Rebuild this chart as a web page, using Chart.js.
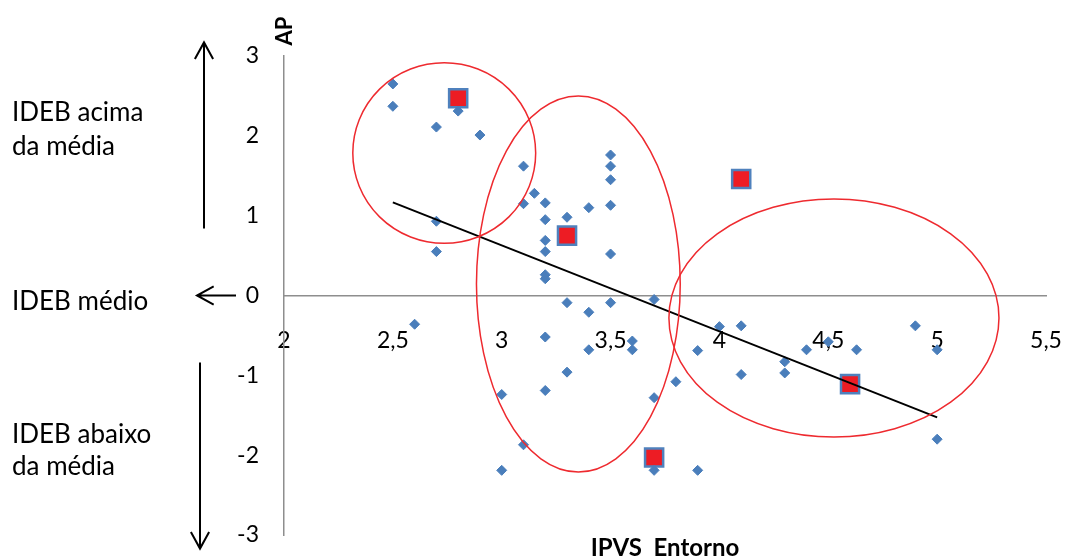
<!DOCTYPE html>
<html>
<head>
<meta charset="utf-8">
<script src="https://cdn.jsdelivr.net/npm/chart.js@4.4.0/dist/chart.umd.min.js"></script>
<style>
  html, body { margin: 0; padding: 0; background: #fff; }
  #wrap { width: 1065px; height: 557px; }
</style>
</head>
<body>
<div id="wrap"><canvas id="chart"></canvas></div>
<script>
// Schools: IPVS of the surroundings (x) against AP (y)
const schoolIpvs = [
  2.5, 2.5, 2.8, 2.7, 2.9, 3.1, 3.15, 3.1, 3.2, 3.2, 3.3, 2.7, 2.7, 3.2, 3.2, 3.2, 3.2, 3.4,
  3.5, 3.5, 3.5, 3.5, 3.5, 3.3, 3.5, 3.7, 2.6, 3.4, 3.2, 3.4, 3.6, 3.6, 3.3, 3.0, 3.2, 3.7,
  3.1, 3.0, 3.7, 4.0, 4.1, 3.9, 3.8, 4.1, 4.3, 4.3, 4.4, 4.5, 4.63, 4.9, 5.0, 5.0, 3.9
];
const schoolAp = [
  2.65, 2.37, 2.31, 2.11, 2.01, 1.62, 1.28, 1.15, 1.16, 0.95, 0.98, 0.93, 0.55, 0.69, 0.55, 0.26, 0.21, 1.10,
  1.76, 1.62, 1.45, 1.13, 0.52, -0.09, -0.09, -0.05, -0.36, -0.21, -0.52, -0.68, -0.57, -0.68, -0.96, -1.24, -1.19, -1.28,
  -1.87, -2.19, -2.19, -0.39, -0.38, -0.69, -1.08, -0.99, -0.83, -0.97, -0.68, -0.58, -0.68, -0.38, -0.68, -1.80, -2.19
];

// Highlighted schools (red squares)
const highlightIpvs = [2.8, 3.3, 4.1, 4.6, 3.7];
const highlightAp = [2.47, 0.75, 1.46, -1.11, -2.03];

// Trend line end points
const trendIpvs = [2.5, 5.0];
const trendAp = [1.167, -1.526];

const xTicks = [2, 2.5, 3, 3.5, 4, 4.5, 5, 5.5];
const yTicks = [3, 2, 1, 0, -1, -2, -3];

// Groups circled in red: centre x, centre y, half width, half height (data units)
const groupRings = [
  [2.736, 1.785, 0.420, 1.131],
  [3.352, 0.144, 0.468, 2.355],
  [4.526, -0.282, 0.758, 1.491]
];

const toPoints = (xs, ys) => xs.map((x, i) => ({ x: x, y: ys[i] }));
const commaLabel = (v) => String(v).replace('.', ',');

Chart.defaults.font.family = 'Lato';
Chart.defaults.color = '#000';

// Rings, side notes, arrows and axis titles
const decorations = {
  id: 'decorations',
  afterDatasetsDraw(chart) {
    const { ctx, scales: { x, y } } = chart;
    ctx.save();
    ctx.strokeStyle = '#EE2A2F';
    ctx.lineWidth = 1.5;
    groupRings.forEach(([cx, cy, rx, ry]) => {
      const px = x.getPixelForValue(cx);
      const py = y.getPixelForValue(cy);
      const prx = x.getPixelForValue(cx + rx) - px;
      const pry = py - y.getPixelForValue(cy + ry);
      ctx.beginPath();
      ctx.ellipse(px, py, prx, pry, 0, 0, Math.PI * 2);
      ctx.stroke();
    });
    ctx.restore();
  },
  afterDraw(chart) {
    const { ctx, chartArea, scales: { y } } = chart;
    ctx.save();
    ctx.fillStyle = '#000';
    ctx.strokeStyle = '#000';

    // side notes
    ctx.font = '26px Lato';
    ctx.textAlign = 'left';
    ctx.textBaseline = 'alphabetic';
    ctx.fillText('IDEB acima', 12, 121);
    ctx.fillText('da média', 12, 155);
    ctx.fillText('IDEB médio', 12, 310);
    ctx.fillText('IDEB abaixo', 12, 443);
    ctx.fillText('da média', 12, 475);

    // arrows
    ctx.lineWidth = 2;
    const arrow = (x1, y1, x2, y2) => {
      const ang = Math.atan2(y2 - y1, x2 - x1);
      const len = 19;
      const spread = 0.5;
      ctx.beginPath();
      ctx.moveTo(x1, y1);
      ctx.lineTo(x2, y2);
      ctx.moveTo(x2 - len * Math.cos(ang - spread), y2 - len * Math.sin(ang - spread));
      ctx.lineTo(x2, y2);
      ctx.lineTo(x2 - len * Math.cos(ang + spread), y2 - len * Math.sin(ang + spread));
      ctx.stroke();
    };
    arrow(204, y.getPixelForValue(0.84), 204, y.getPixelForValue(3.17));
    arrow(200, y.getPixelForValue(-0.84), 200, y.getPixelForValue(-3.17));
    arrow(236, y.getPixelForValue(0), 197, y.getPixelForValue(0));

    // axis titles
    ctx.font = 'bold 24px Lato';
    ctx.textAlign = 'center';
    ctx.textBaseline = 'middle';
    ctx.fillText('IPVS  Entorno', (chartArea.left + chartArea.right) / 2, 548);
    ctx.font = 'bold 22px Lato';
    ctx.translate(chartArea.left + 1, chartArea.top - 25);
    ctx.rotate(-Math.PI / 2);
    ctx.fillText('AP', 0, 0);
    ctx.restore();
  }
};

new Chart(document.getElementById('chart'), {
  type: 'scatter',
  data: {
    datasets: [
      {
        label: 'Tendência',
        type: 'line',
        data: toPoints(trendIpvs, trendAp),
        borderColor: '#000',
        borderWidth: 2,
        pointRadius: 0,
        fill: false,
        order: 0
      },
      {
        label: 'Escolas',
        data: toPoints(schoolIpvs, schoolAp),
        pointStyle: 'rectRot',
        pointRadius: 5,
        backgroundColor: '#4A7EBB',
        borderColor: '#4A7EBB',
        borderWidth: 1,
        order: 1
      },
      {
        label: 'Destaque',
        data: toPoints(highlightIpvs, highlightAp),
        pointStyle: 'rect',
        pointRadius: 12.8,
        backgroundColor: '#ED1C24',
        borderColor: '#4F81BD',
        borderWidth: 2.5,
        order: 2
      }
    ]
  },
  options: {
    responsive: true,
    maintainAspectRatio: false,
    animation: false,
    layout: { padding: { top: 56, right: 19, bottom: 22, left: 0 } },
    plugins: {
      legend: { display: false },
      tooltip: { enabled: false }
    },
    scales: {
      x: {
        type: 'linear',
        position: { y: 0 },
        min: 2,
        max: 5.5,
        afterBuildTicks: (scale) => { scale.ticks = xTicks.map(v => ({ value: v })); },
        afterFit: (scale) => {
          scale.height = 0;
          scale.paddingLeft = 0;
          scale.paddingRight = 0;
        },
        grid: { display: false, drawTicks: false },
        border: { display: true, color: '#8E8E8E', width: 1.5 },
        ticks: {
          autoSkip: false,
          maxRotation: 0,
          padding: 31,
          font: { size: 23 },
          color: '#000',
          callback: commaLabel
        }
      },
      y: {
        type: 'linear',
        position: 'left',
        min: -3,
        max: 3,
        afterBuildTicks: (scale) => { scale.ticks = yTicks.map(v => ({ value: v })); },
        afterFit: (scale) => {
          scale.width = 284;
          scale.paddingTop = 0;
          scale.paddingBottom = 0;
        },
        grid: { display: false, drawTicks: false },
        border: { display: true, color: '#8E8E8E', width: 1.5 },
        ticks: {
          padding: 25,
          font: { size: 23 },
          color: '#000',
          callback: commaLabel
        }
      }
    }
  },
  plugins: [decorations]
});
</script>
</body>
</html>
